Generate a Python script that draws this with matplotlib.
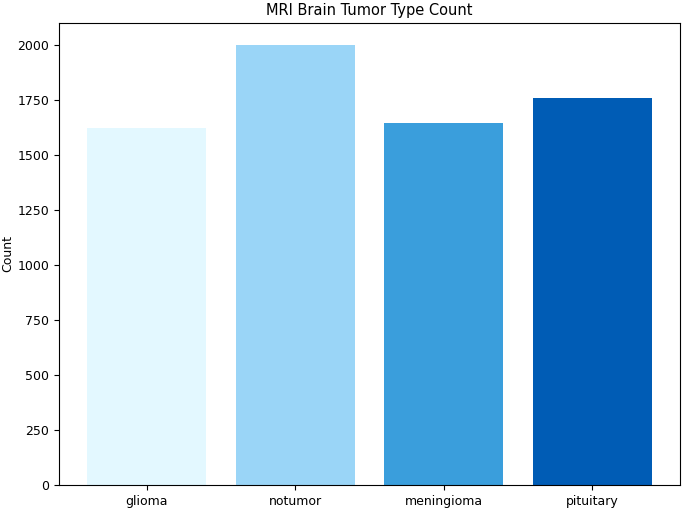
import matplotlib
matplotlib.use("Agg")
import matplotlib.pyplot as plt

categories = ["glioma", "notumor", "meningioma", "pituitary"]
counts = [1621, 2000, 1645, 1757]
colors = ["#E3F8FF", "#9AD5F7", "#3A9EDC", "#005CB5"]

W, H = 685, 509
fig = plt.figure(figsize=(W / 100, H / 100), dpi=100)
left, right, top, bottom = 59, 680, 23, 485
ax = fig.add_axes([left / W, 1 - bottom / H, (right - left) / W, (bottom - top) / H])
ax.bar(categories, counts, color=colors)
ax.set_title("MRI Brain Tumor Type Count", fontsize=10.5)
ax.set_ylabel("Count", fontsize=9, labelpad=2)
ax.tick_params(labelsize=9)
fig.savefig("out.png", dpi=100)
